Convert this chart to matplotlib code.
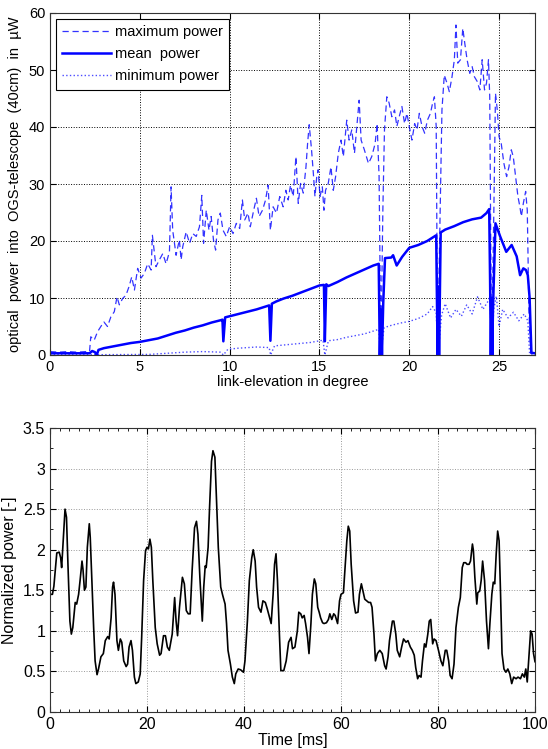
import matplotlib
matplotlib.use("Agg")
import matplotlib.pyplot as plt
from matplotlib.ticker import MultipleLocator

plt.rcParams['font.family'] = ['Liberation Sans', 'DejaVu Sans']
plt.rcParams['font.size'] = 10

# ---------------- top chart data ----------------
mean_deg = [0.0, 1.0, 2.2, 2.35, 2.5, 2.6, 2.7, 3.0, 3.5, 4.0, 4.5, 5.0, 5.5, 6.0, 6.5, 7.0, 7.5, 8.0,
            8.5, 9.0, 9.5, 9.6, 9.65, 9.75, 10.0, 10.5, 11.0, 11.5, 12.0, 12.2, 12.27, 12.35, 12.6, 13.0,
            13.5, 14.0, 14.5, 15.0, 15.25, 15.3, 15.38, 15.5, 16.0, 16.5, 17.0, 17.5, 18.0, 18.3, 18.36,
            18.42, 18.48, 18.55, 18.65, 19.0, 19.1, 19.3, 19.6, 20.0, 20.5, 21.0, 21.4, 21.5, 21.54,
            21.58, 21.62, 21.66, 21.75, 22.0, 22.5, 23.0, 23.5, 24.0, 24.3, 24.45, 24.5, 24.54, 24.58,
            24.62, 24.66, 24.8, 25.06, 25.4, 25.7, 25.98, 26.17, 26.35, 26.5, 26.6, 26.7, 26.8, 27.0]
mean_val = [0.3, 0.3, 0.3, 0.7, 0.5, 0.0, 0.9, 1.2, 1.5, 1.8, 2.1, 2.3, 2.6, 2.9, 3.4, 3.9, 4.3, 4.8,
            5.2, 5.7, 6.1, 6.2, 2.4, 6.6, 6.8, 7.2, 7.6, 8.0, 8.5, 8.7, 2.5, 9.0, 9.4, 9.9,
            10.4, 11.0, 11.6, 12.2, 12.3, 2.4, 12.4, 12.1, 12.8, 13.6, 14.3, 15.0, 15.7, 16.0, 0.0,
            8.0, 0.0, 9.0, 17.0, 17.1, 17.5, 15.7, 17.2, 18.8, 19.3, 20.0, 20.8, 21.0, 10.0,
            0.0, 12.0, 0.0, 21.5, 22.0, 22.6, 23.3, 23.8, 24.1, 24.9, 25.6, 13.0, 0.0, 10.0,
            0.0, 8.0, 23.1, 20.8, 18.1, 19.3, 17.3, 14.0, 15.2, 14.9, 14.0, 10.0, 0.4, 0.3]

max_deg = [0.0, 0.5, 1.0, 1.5, 2.0, 2.2, 2.27, 2.46, 2.65, 2.83, 3.0, 3.2, 3.39, 3.58, 3.73, 3.86, 4.04,
           4.23, 4.4, 4.55, 4.7, 4.88, 5.07, 5.25, 5.44, 5.63, 5.7, 5.9, 6.09, 6.28, 6.46, 6.65, 6.74,
           6.83, 7.02, 7.2, 7.3, 7.39, 7.58, 7.77, 7.95, 8.14, 8.32, 8.45, 8.55, 8.7, 8.85, 8.97, 9.1,
           9.22, 9.35, 9.48, 9.63, 9.81, 10.0, 10.19, 10.37, 10.56, 10.71, 10.84, 11.02, 11.15, 11.34,
           11.49, 11.64, 11.83, 12.0, 12.14, 12.27, 12.42, 12.61, 12.79, 12.98, 13.13, 13.26, 13.39,
           13.54, 13.69, 13.82, 13.95, 14.1, 14.25, 14.34, 14.43, 14.56, 14.66, 14.75, 14.85, 14.93,
           15.03, 15.16, 15.25, 15.34, 15.49, 15.64, 15.77, 15.9, 16.05, 16.2, 16.33, 16.52, 16.65,
           16.8, 16.95, 17.08, 17.21, 17.32, 17.5, 17.73, 17.91, 18.1, 18.21, 18.32, 18.42, 18.53,
           18.62, 18.75, 18.88, 19.03, 19.18, 19.31, 19.44, 19.59, 19.74, 19.87, 20.0, 20.15, 20.3,
           20.43, 20.56, 20.71, 20.86, 21.01, 21.18, 21.3, 21.4, 21.5, 21.58, 21.69, 21.82, 21.95,
           22.1, 22.23, 22.38, 22.51, 22.6, 22.7, 22.85, 22.98, 23.09, 23.22, 23.37, 23.5, 23.63,
           23.78, 23.93, 24.06, 24.19, 24.3, 24.41, 24.48, 24.58, 24.71, 24.8, 24.9, 25.0, 25.12,
           25.27, 25.42, 25.55, 25.68, 25.79, 25.92, 26.05, 26.16, 26.24, 26.35, 26.48, 26.57, 26.66,
           26.76, 27.0]
max_val = [0.6, 0.5, 0.6, 0.5, 0.6, 0.6, 3.2, 2.6, 4.1, 5.0, 5.8, 5.0, 6.7, 7.6, 10.2, 8.8, 9.9,
           10.5, 12.0, 13.7, 11.4, 15.2, 13.5, 14.3, 16.0, 14.9, 21.0, 15.5, 16.7, 17.8, 16.0, 18.1, 29.5,
           21.9, 17.5, 20.2, 16.7, 19.0, 21.6, 19.6, 21.3, 20.8, 22.5, 28.0, 19.6, 25.4, 21.9, 24.3, 20.2,
           18.4, 23.7, 24.9, 21.9, 20.8, 22.5, 21.3, 23.1, 22.2, 27.2, 23.7, 24.9, 22.5, 25.4,
           27.5, 24.3, 25.4, 27.2, 29.8, 21.9, 26.0, 24.9, 27.8, 26.0, 28.9, 27.2, 29.8,
           27.8, 34.8, 26.6, 30.1, 28.4, 33.0, 37.1, 40.4, 36.0, 31.9, 27.8, 31.3, 32.5,
           27.8, 29.5, 25.4, 28.9, 30.1, 33.0, 28.9, 31.3, 35.4, 37.7, 34.8, 41.2, 37.7,
           39.5, 35.4, 40.1, 44.7, 37.7, 36.0, 33.6, 34.8, 37.1, 40.6, 31.3, 0.3, 25.4,
           39.5, 45.3, 44.2, 41.8, 43.0, 40.1, 41.8, 43.6, 40.6, 42.4, 40.1, 37.7, 40.6,
           39.5, 42.4, 40.1, 38.9, 41.2, 42.4, 44.2, 45.3, 40.1, 0.3, 19.6, 43.0, 49.1,
           47.7, 46.2, 48.8, 51.8, 57.9, 51.2, 51.8, 57.3, 54.7, 51.8, 49.4, 50.6, 48.8,
           48.0, 46.5, 51.8, 46.5, 47.7, 51.8, 45.3, 0.3, 25.4, 45.9, 43.0, 38.3, 37.1,
           33.6, 31.3, 33.0, 36.0, 34.8, 31.3, 27.8, 26.0, 24.3, 26.6, 28.7, 25.4, 7.9,
           0.3, 0.3]

min_deg = [0.0, 2.3, 5.5, 6.5, 7.5, 8.5, 9.5, 9.65, 9.9, 10.5, 11.5, 12.2, 12.28, 12.5, 13.5, 14.5,
           15.2, 15.3, 15.5, 16.0, 16.5, 17.0, 17.5, 18.0, 18.3, 18.4, 18.6, 19.0, 19.5, 20.0, 20.5,
           21.0, 21.3, 21.5, 21.6, 21.8, 22.0, 22.3, 22.6, 22.9, 23.2, 23.5, 23.8, 24.1, 24.4, 24.5,
           24.58, 24.7, 24.85, 25.0, 25.2, 25.5, 25.8, 26.1, 26.4, 26.6, 26.7, 27.0]
min_val = [0.05, 0.05, 0.1, 0.3, 0.5, 0.6, 0.5, 0.0, 1.0, 1.2, 1.4, 1.3, 0.0, 1.6, 1.9, 2.2,
           2.6, 0.0, 2.5, 2.7, 3.1, 3.4, 3.7, 4.2, 4.5, 0.0, 4.8, 5.2, 5.6, 5.9, 6.4,
           7.2, 8.5, 7.4, 0.0, 7.0, 9.0, 6.5, 8.0, 6.8, 8.8, 7.2, 10.2, 8.0, 9.5, 10.5,
           0.0, 8.0, 10.3, 5.0, 8.0, 6.5, 7.5, 6.0, 7.2, 6.0, 0.2, 0.1]

top_xticks = [0, 5, 10, 15, 20, 25]
top_yticks = [0, 10, 20, 30, 40, 50, 60]

# ---------------- bottom chart data ----------------
time_ms = [0, 0.5, 0.8, 1.4, 1.9, 2.2, 2.4, 2.8, 3.1, 3.4, 3.7, 4.1, 4.4, 4.7, 5.2, 5.5, 5.9, 6.2, 6.6,
           6.8, 7.1, 7.4, 7.7, 8.1, 8.3, 8.6, 9.0, 9.3, 9.7, 10.0, 10.5, 11.0, 11.4, 11.9, 12.2, 12.6,
           12.9, 13.1, 13.4, 13.8, 14.1, 14.5, 14.8, 15.2, 15.7, 16.0, 16.3, 16.7, 17.0, 17.4, 17.7,
           18.2, 18.6, 18.9, 19.3, 19.7, 20.0, 20.3, 20.6, 20.9, 21.2, 21.7, 22.1, 22.6, 22.9, 23.4,
           23.8, 24.2, 24.6, 25.2, 25.7, 26.0, 26.3, 26.7, 27.3, 27.7, 28.1, 28.5, 28.9, 29.3, 29.8,
           30.2, 30.5, 30.9, 31.2, 31.4, 31.7, 32.0, 32.2, 32.6, 32.9, 33.3, 33.6, 34.0, 34.3, 34.7,
           35.2, 35.6, 36.1, 36.4, 36.7, 37.2, 37.6, 38.0, 38.3, 38.8, 39.3, 39.9, 40.2, 40.7, 41.1,
           41.6, 41.9, 42.3, 42.6, 43.0, 43.5, 43.9, 44.4, 44.8, 45.3, 45.6, 46.0, 46.3, 46.6, 46.9,
           47.3, 47.6, 48.2, 48.7, 49.2, 49.7, 50.0, 50.5, 51.0, 51.3, 51.7, 52.0, 52.4, 52.7, 53.1,
           53.4, 53.8, 54.1, 54.5, 54.8, 55.2, 55.5, 55.8, 56.2, 56.5, 57.0, 57.4, 57.7, 58.1, 58.5,
           58.8, 59.3, 59.7, 60.0, 60.5, 60.8, 61.2, 61.5, 61.8, 62.1, 62.6, 63.0, 63.5, 63.8, 64.2,
           64.5, 64.9, 65.3, 65.7, 66.1, 66.4, 66.8, 67.1, 67.5, 68.0, 68.5, 69.0, 69.3, 69.7, 70.0,
           70.6, 70.9, 71.3, 71.6, 72.1, 72.5, 72.9, 73.4, 73.8, 74.3, 74.7, 75.1, 75.4, 75.8, 76.1,
           76.5, 76.8, 77.2, 77.5, 77.9, 78.2, 78.5, 78.9, 79.2, 79.6, 80.1, 80.6, 81.0, 81.5, 81.8,
           82.2, 82.5, 82.9, 83.3, 83.7, 84.2, 84.6, 85.0, 85.3, 85.7, 86.0, 86.4, 86.7, 87.1, 87.3,
           87.6, 88.0, 88.2, 88.6, 88.9, 89.2, 89.6, 90.0, 90.4, 90.7, 91.1, 91.4, 91.7, 92.0, 92.3,
           92.6, 92.9, 93.2, 93.6, 94.0, 94.4, 94.8, 95.2, 95.6, 96.1, 96.5, 97.0, 97.4, 97.8, 98.1,
           98.4, 98.8, 99.1, 99.4, 99.7, 100.0]
norm_power = [1.45, 1.45, 1.55, 1.96, 1.97, 1.9, 1.78, 2.18, 2.5, 2.4, 1.82, 1.12, 0.96, 1.04, 1.35, 1.33, 1.45, 1.62, 1.86,
              1.76, 1.5, 1.54, 2.03, 2.32, 2.15, 1.66, 1.04, 0.63, 0.46, 0.53, 0.68, 0.72, 0.88, 0.93, 0.9, 1.16,
              1.54, 1.6, 1.45, 0.88, 0.76, 0.9, 0.86, 0.63, 0.56, 0.59, 0.8, 0.88, 0.76, 0.43, 0.35,
              0.37, 0.47, 0.92, 1.62, 1.99, 2.03, 2.01, 2.13, 2.03, 1.62, 1.04, 0.84, 0.7, 0.72, 0.94,
              0.94, 0.8, 0.76, 0.96, 1.41, 1.12, 0.94, 1.29, 1.66, 1.58, 1.25, 1.21, 1.21, 1.74, 2.27,
              2.35, 2.19, 1.66, 1.33, 1.12, 1.54, 1.8, 1.78, 2.03, 2.52, 3.09, 3.22, 3.14, 2.66, 2.03,
              1.54, 1.44, 1.33, 1.09, 0.76, 0.59, 0.43, 0.35, 0.47, 0.53, 0.52, 0.49, 0.63, 1.12, 1.62,
              1.9, 2.0, 1.86, 1.54, 1.29, 1.23, 1.37, 1.35, 1.27, 1.16, 1.09, 1.45, 1.82, 1.95, 1.62,
              0.96, 0.51, 0.51, 0.63, 0.86, 0.92, 0.78, 0.8, 1.0, 1.23, 1.21, 1.16, 1.19, 1.09, 0.92,
              0.72, 1.09, 1.45, 1.64, 1.58, 1.29, 1.23, 1.16, 1.1, 1.09, 1.1, 1.14, 1.21, 1.14, 1.21,
              1.19, 1.09, 1.37, 1.45, 1.47, 1.74, 2.11, 2.29, 2.23, 1.82, 1.37, 1.22, 1.23, 1.45, 1.58,
              1.5, 1.39, 1.37, 1.35, 1.35, 1.29, 0.96, 0.63, 0.72, 0.76, 0.72, 0.57, 0.53, 0.68, 0.88,
              1.12, 1.12, 0.96, 0.76, 0.68, 0.8, 0.9, 0.86, 0.88, 0.8, 0.76, 0.7, 0.55, 0.41, 0.45,
              0.43, 0.63, 0.84, 0.8, 0.96, 1.12, 1.14, 0.84, 0.9, 0.88, 0.76, 0.63, 0.57, 0.76, 0.76,
              0.63, 0.45, 0.41, 0.59, 1.04, 1.29, 1.41, 1.78, 1.84, 1.84, 1.82, 1.82, 1.86, 2.07, 1.99,
              1.66, 1.33, 1.47, 1.49, 1.62, 1.86, 1.62, 1.12, 0.78, 1.09, 1.45, 1.6, 1.58, 1.95, 2.23,
              2.11, 1.45, 0.72, 0.53, 0.49, 0.53, 0.47, 0.35, 0.43, 0.41, 0.43, 0.41, 0.47, 0.43, 0.53,
              0.37, 0.72, 1.0, 0.96, 0.72, 0.62]

bot_xticks = [0, 20, 40, 60, 80, 100]
bot_yticks = [0, 0.5, 1, 1.5, 2, 2.5, 3, 3.5]

BLUE = '#0000ff'

fig = plt.figure(figsize=(5.48, 7.49), dpi=100)

# ---------- top axes ----------
ax1 = fig.add_axes([50 / 548, 1 - 355 / 749, 485 / 548, 342 / 749])
ax1.plot(max_deg, max_val, color=BLUE, lw=0.9, dashes=(5, 3), label='maximum power', alpha=0.8)
ax1.plot(mean_deg, mean_val, color=BLUE, lw=1.8, label='mean  power')
ax1.plot(min_deg, min_val, color=BLUE, lw=1.0, ls=':', label='minimum power', alpha=0.7)
ax1.set_xlim(0, 27)
ax1.set_ylim(0, 60)
ax1.set_xticks(top_xticks)
ax1.set_yticks(top_yticks)
ax1.grid(True, color='black', ls=':', lw=0.7)
ax1.tick_params(direction='in', top=True, right=True, length=4, labelsize=10.5)
ax1.set_xlabel('link-elevation in degree', fontsize=10.5, labelpad=1)
ax1.set_ylabel('optical  power  into  OGS-telescope  (40cm)  in  µW', fontsize=10.5, labelpad=5)
leg = ax1.legend(loc='upper left', fontsize=10.5, handlelength=3.3, fancybox=False,
                 edgecolor='black', framealpha=1, borderaxespad=0.4, labelspacing=0.55,
                 handletextpad=0.3, borderpad=0.45)
leg.get_frame().set_linewidth(0.8)

# ---------- bottom axes ----------
ax2 = fig.add_axes([50 / 548, 1 - 712 / 749, 485 / 548, 284 / 749])
ax2.plot(time_ms, norm_power, color='black', lw=1.2)
ax2.set_xlim(0, 100)
ax2.set_ylim(0, 3.5)
ax2.set_xticks(bot_xticks)
ax2.set_yticks(bot_yticks)
ax2.set_xticklabels(['0', '20', '40', '60', '80', '100'])
ax2.set_yticklabels(['0', '0.5', '1', '1.5', '2', '2.5', '3', '3.5'])
ax2.xaxis.set_minor_locator(MultipleLocator(2))
ax2.yaxis.set_minor_locator(MultipleLocator(0.25))
ax2.grid(True, which='major', color='#999999', ls=':', lw=0.7)
ax2.tick_params(which='both', direction='in', top=True, right=True, labelsize=11.5)
ax2.tick_params(which='major', length=4)
ax2.tick_params(which='minor', length=2.5)
ax2.set_xlabel('Time [ms]', fontsize=11.5, labelpad=1)
ax2.set_ylabel('Normalized power [-]', fontsize=11.5, labelpad=4)
for a in (ax1, ax2):
    for s in a.spines.values():
        s.set_linewidth(0.8)
        s.set_color('#333333')

fig.savefig('out.png', dpi=100)
